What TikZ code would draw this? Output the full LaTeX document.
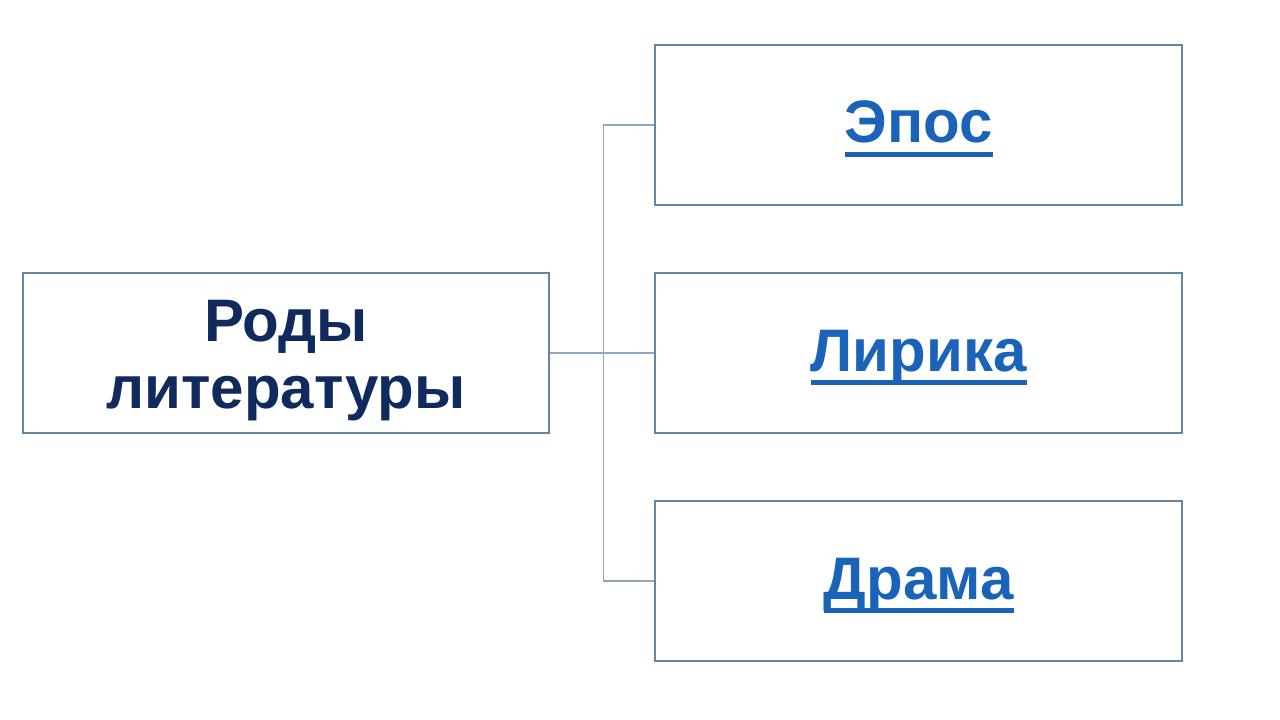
\documentclass[tikz,border=0pt]{standalone}
\usepackage{fontspec}
\setmainfont{Liberation Sans}
\usepackage{tikz}
\usetikzlibrary{positioning}
\definecolor{boxline}{HTML}{6585A5}
\definecolor{linkline}{HTML}{8FA7BE}
\definecolor{navytext}{HTML}{102A5E}
\definecolor{linktext}{HTML}{1A63B9}
\newcommand{\linkword}[1]{\setbox0\hbox{#1}\rule{0pt}{37.5pt}\rlap{\copy0}\raisebox{-10.5pt}{\rule{\wd0}{3.7pt}}}

\begin{document}
\begin{tikzpicture}
	\tikzstyle{block} = [draw=boxline, line width=1.5pt, rectangle, minimum height=120pt, minimum width=395pt, inner sep=0pt]
	\tikzstyle{sub} = [block, font=\fontsize{45}{50}\selectfont\bfseries, text=linktext]
	\useasboundingbox (0,0) rectangle (960pt,-540pt);

	\node [block, align=center, font=\fontsize{45}{48}\selectfont\bfseries, text=navytext] (kinds) at (214.5pt,-264.75pt) {\rule{0pt}{42pt}Роды\\[2pt]литературы};

	\node [sub, right = 78pt of kinds] (lyric){\linkword{Лирика}};
	\node [sub, above = 49.5pt of lyric] (epos){\linkword{Эпос}};
	\node [sub, below = 49.5pt of lyric] (drama){\linkword{Драма}};

	\node [coordinate, right = 39.75pt of kinds] (split){};

	\draw [draw=linkline, line width=0.8pt] (kinds.east) -- (split);
	\draw [draw=linkline, line width=0.8pt] (split) -- (lyric.west);
	\draw [draw=linkline, line width=0.8pt] (split) |- (epos.west);
	\draw [draw=linkline, line width=0.8pt] (split) |- (drama.west);
\end{tikzpicture}
\end{document}
